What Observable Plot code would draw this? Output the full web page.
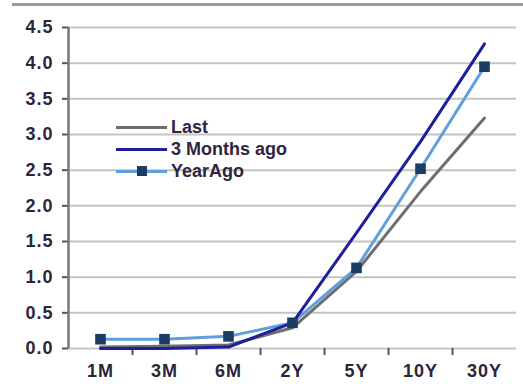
<!DOCTYPE html>
<html>
<head>
<meta charset="utf-8">
<script src="https://cdn.jsdelivr.net/npm/d3@7"></script>
<script src="https://cdn.jsdelivr.net/npm/@observablehq/plot@0.6"></script>
<style>
  body { margin: 0; background: #fff; font-family: "Liberation Sans", Arial, sans-serif; }
  #wrap { position: relative; width: 523px; height: 387px; overflow: hidden; }
  #topline { position: absolute; left: 12px; top: 3px; width: 511px; height: 3px; background: #9a9a9a; }
  #legend { position: absolute; left: 116px; top: 116px; font-weight: bold; font-size: 18px; color: #2f2540; }
  .item { position: relative; height: 22px; display: flex; align-items: center; }
  .swatch { position: relative; width: 51px; height: 3px; margin-right: 4px; }
  .swatch .sq { position: absolute; left: 21px; top: -4px; width: 10px; height: 10px; background: #1c3d63; }
  #chart { position: absolute; left: 0; top: 0; }
</style>
</head>
<body>
<div id="wrap">
  <div id="chart"></div>
  <div id="topline"></div>
  <div id="legend"></div>
</div>
<script>
const tenors = ["1M", "3M", "6M", "2Y", "5Y", "10Y", "30Y"];
const seriesNames = ["Last", "3 Months ago", "YearAgo"];
const lastValues = [0.02, 0.03, 0.05, 0.29, 1.08, 2.2, 3.23];
const threeMonthsAgoValues = [0.0, 0.0, 0.02, 0.36, 1.62, 2.9, 4.27];
const yearAgoValues = [0.13, 0.13, 0.17, 0.36, 1.13, 2.52, 3.95];
const yTicks = [0, 0.5, 1, 1.5, 2, 2.5, 3, 3.5, 4, 4.5];
const colors = {"Last": "#6e6e6e", "3 Months ago": "#1f1f9e", "YearAgo": "#5f9fdc"};

const rows = [];
[lastValues, threeMonthsAgoValues, yearAgoValues].forEach((vals, i) => {
  vals.forEach((v, j) => rows.push({series: seriesNames[i], tenor: tenors[j], value: v}));
});
const yearAgoRows = rows.filter(d => d.series === "YearAgo");

const plot = Plot.plot({
  width: 523,
  height: 387,
  marginTop: 27,
  marginBottom: 39,
  marginLeft: 68,
  marginRight: 7,
  style: {fontFamily: "'Liberation Sans', Arial, sans-serif", fontSize: "18px", fontWeight: "bold", color: "#2e2438", background: "#fff", letterSpacing: "1px"},
  x: {type: "point", domain: tenors, padding: 0.5, label: null},
  y: {domain: [0, 4.5], label: null},
  marks: [
    Plot.gridY(yTicks, {stroke: "#c4c4c4", strokeOpacity: 1, strokeWidth: 2}),
    Plot.ruleX(tenors.slice(0, -1), {x: d => d, dx: 32, insetTop: 321, insetBottom: -7, stroke: "#555", strokeWidth: 2}),
    Plot.axisY(yTicks, {tickFormat: d3.format(".1f"), tickSize: 6, tickPadding: 9, stroke: "#555", strokeWidth: 2}),
    Plot.ruleX([tenors[0]], {x: d => d, dx: -32, y1: 0, y2: 4.5, stroke: "#777", strokeWidth: 2.5}),
    Plot.axisX({tickSize: 0, tickPadding: 16}),
    Plot.line(rows.filter(d => d.series === "Last"), {x: "tenor", y: "value", stroke: colors["Last"], strokeWidth: 3}),
    Plot.line(yearAgoRows, {x: "tenor", y: "value", stroke: colors["YearAgo"], strokeWidth: 3}),
    Plot.line(rows.filter(d => d.series === "3 Months ago"), {x: "tenor", y: "value", stroke: colors["3 Months ago"], strokeWidth: 3}),
    Plot.dot(yearAgoRows, {x: "tenor", y: "value", symbol: "square", r: 6, fill: "#1c3d63", stroke: "none"})
  ]
});
document.getElementById("chart").appendChild(plot);

const legend = d3.select("#legend");
seriesNames.forEach(name => {
  const item = legend.append("div").attr("class", "item");
  const sw = item.append("div").attr("class", "swatch").style("background", colors[name]);
  if (name === "YearAgo") sw.append("div").attr("class", "sq");
  item.append("span").text(name);
});
</script>
</body>
</html>
